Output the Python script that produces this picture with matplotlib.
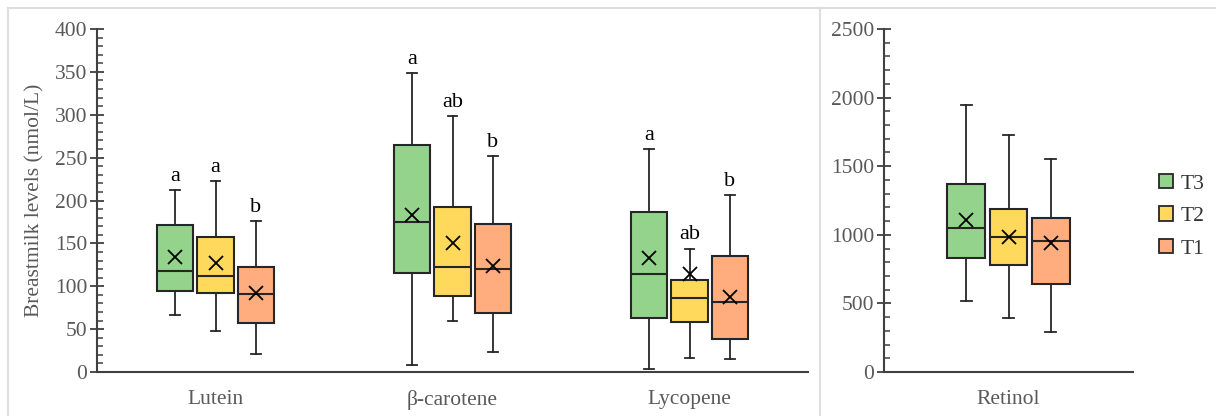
import matplotlib
matplotlib.use('Agg')
from matplotlib import pyplot as plt
from matplotlib.patches import Patch
from matplotlib.lines import Line2D
from matplotlib.ticker import MultipleLocator

plt.rcParams['font.family'] = ['Liberation Serif', 'DejaVu Serif']

# data: [category][tertile], tertile order T3, T2, T1
categories = ['Lutein', 'β-carotene', 'Lycopene']
tertiles = ['T3', 'T2', 'T1']
colors = ['#93d38b', '#ffd95b', '#ffad7e']

whislo = [[66, 48, 21], [8, 60, 23], [4, 16, 15]]
q1 = [[95, 92, 57], [116, 89, 69], [63, 58, 38]]
med = [[118, 112, 91], [175, 122, 120], [114, 86, 82]]
q3 = [[172, 158, 122], [265, 193, 173], [187, 107, 135]]
whishi = [[212, 223, 176], [349, 298, 252], [260, 144, 206]]
means = [[134, 127, 92], [183, 151, 124], [133, 114, 87]]
letters = [['a', 'a', 'b'], ['a', 'ab', 'b'], ['a', 'ab', 'b']]

retinol_lo = [520, 396, 289]
retinol_q1 = [829, 782, 644]
retinol_med = [1052, 986, 955]
retinol_q3 = [1370, 1186, 1125]
retinol_hi = [1946, 1725, 1555]
retinol_mean = [1110, 985, 938]

offsets = [-0.169, 0, 0.169]
box_w = 0.152
grey = '#595959'
edge = '#262626'

fig = plt.figure(figsize=(12.16, 4.16), dpi=100)
ax1 = fig.add_axes([97 / 1216, 44 / 416, 711 / 1216, 343 / 416])
ax2 = fig.add_axes([884 / 1216, 44 / 416, 249 / 1216, 343 / 416])


def draw_boxes(ax, x, lo, a, m, b, hi, mn):
    for k in range(3):
        st = [dict(whislo=lo[k], q1=a[k], med=m[k], q3=b[k], whishi=hi[k],
                   mean=mn[k], fliers=[])]
        ax.bxp(st, positions=[x + offsets[k]], widths=box_w, patch_artist=True,
               showmeans=True, capwidths=0.042,
               boxprops=dict(facecolor=colors[k], edgecolor=edge, linewidth=1.5),
               medianprops=dict(color=edge, linewidth=1.5),
               whiskerprops=dict(color=edge, linewidth=1.3),
               capprops=dict(color=edge, linewidth=1.3),
               meanprops=dict(marker='x', markeredgecolor='black', markersize=10,
                              markeredgewidth=1.3))


for i in range(len(categories)):
    draw_boxes(ax1, i, whislo[i], q1[i], med[i], q3[i], whishi[i], means[i])
    for k in range(3):
        ax1.annotate(letters[i][k], (i + offsets[k], whishi[i][k]),
                     textcoords='offset points', xytext=(0, 3), ha='center',
                     va='bottom', fontsize=16, color='black')

draw_boxes(ax2, 0, retinol_lo, retinol_q1, retinol_med, retinol_q3, retinol_hi,
           retinol_mean)

ax1.set_xlim(-0.5, 2.5)
ax1.set_ylim(0, 400)
ax1.yaxis.set_major_locator(MultipleLocator(50))
ax1.yaxis.set_minor_locator(MultipleLocator(10))
ax1.set_xticks(range(len(categories)))
ax1.set_xticklabels(categories)
ax1.set_ylabel('Breastmilk levels (nmol/L)', color=grey, fontsize=15.5)
ax1.yaxis.set_label_coords(-0.074, 0.5)

ax2.set_xlim(-0.5, 0.5)
ax2.set_ylim(0, 2500)
ax2.yaxis.set_major_locator(MultipleLocator(500))
ax2.yaxis.set_minor_locator(MultipleLocator(100))
ax2.set_xticks([0])
ax2.set_xticklabels(['Retinol'])

for ax in (ax1, ax2):
    for s in ('top', 'right'):
        ax.spines[s].set_visible(False)
    for s in ('left', 'bottom'):
        ax.spines[s].set_color('#404040')
        ax.spines[s].set_linewidth(1.5)
    ax.tick_params(axis='y', which='major', direction='inout', length=10,
                   width=1.3, color='#404040', labelcolor=grey, labelsize=15.5,
                   pad=2)
    ax.tick_params(axis='y', which='minor', direction='in', length=4,
                   width=1.1, color='#404040')
    ax.tick_params(axis='x', length=0, labelcolor=grey, labelsize=15.5, pad=13)
    ax.set_facecolor('none')

handles = [Patch(facecolor=c, edgecolor=edge, linewidth=1.3) for c in colors]
fig.legend(handles, tertiles, loc='upper left',
           bbox_to_anchor=(1148 / 1216, 1 - 163 / 416), frameon=False,
           fontsize=15.5, handlelength=0.65, handleheight=0.65, labelspacing=0.6,
           handletextpad=0.35, borderpad=0, labelcolor='#333333')

# light panel frames
fc = '#dedede'
fig.add_artist(Line2D([8 / 1216, 1], [1 - 8 / 416, 1 - 8 / 416], color=fc, lw=1.5))
fig.add_artist(Line2D([8 / 1216, 8 / 1216], [0, 1 - 8 / 416], color=fc, lw=1.5))
fig.add_artist(Line2D([820 / 1216, 820 / 1216], [0, 1 - 8 / 416], color=fc, lw=1.5))

fig.savefig('out.png', dpi=100)
